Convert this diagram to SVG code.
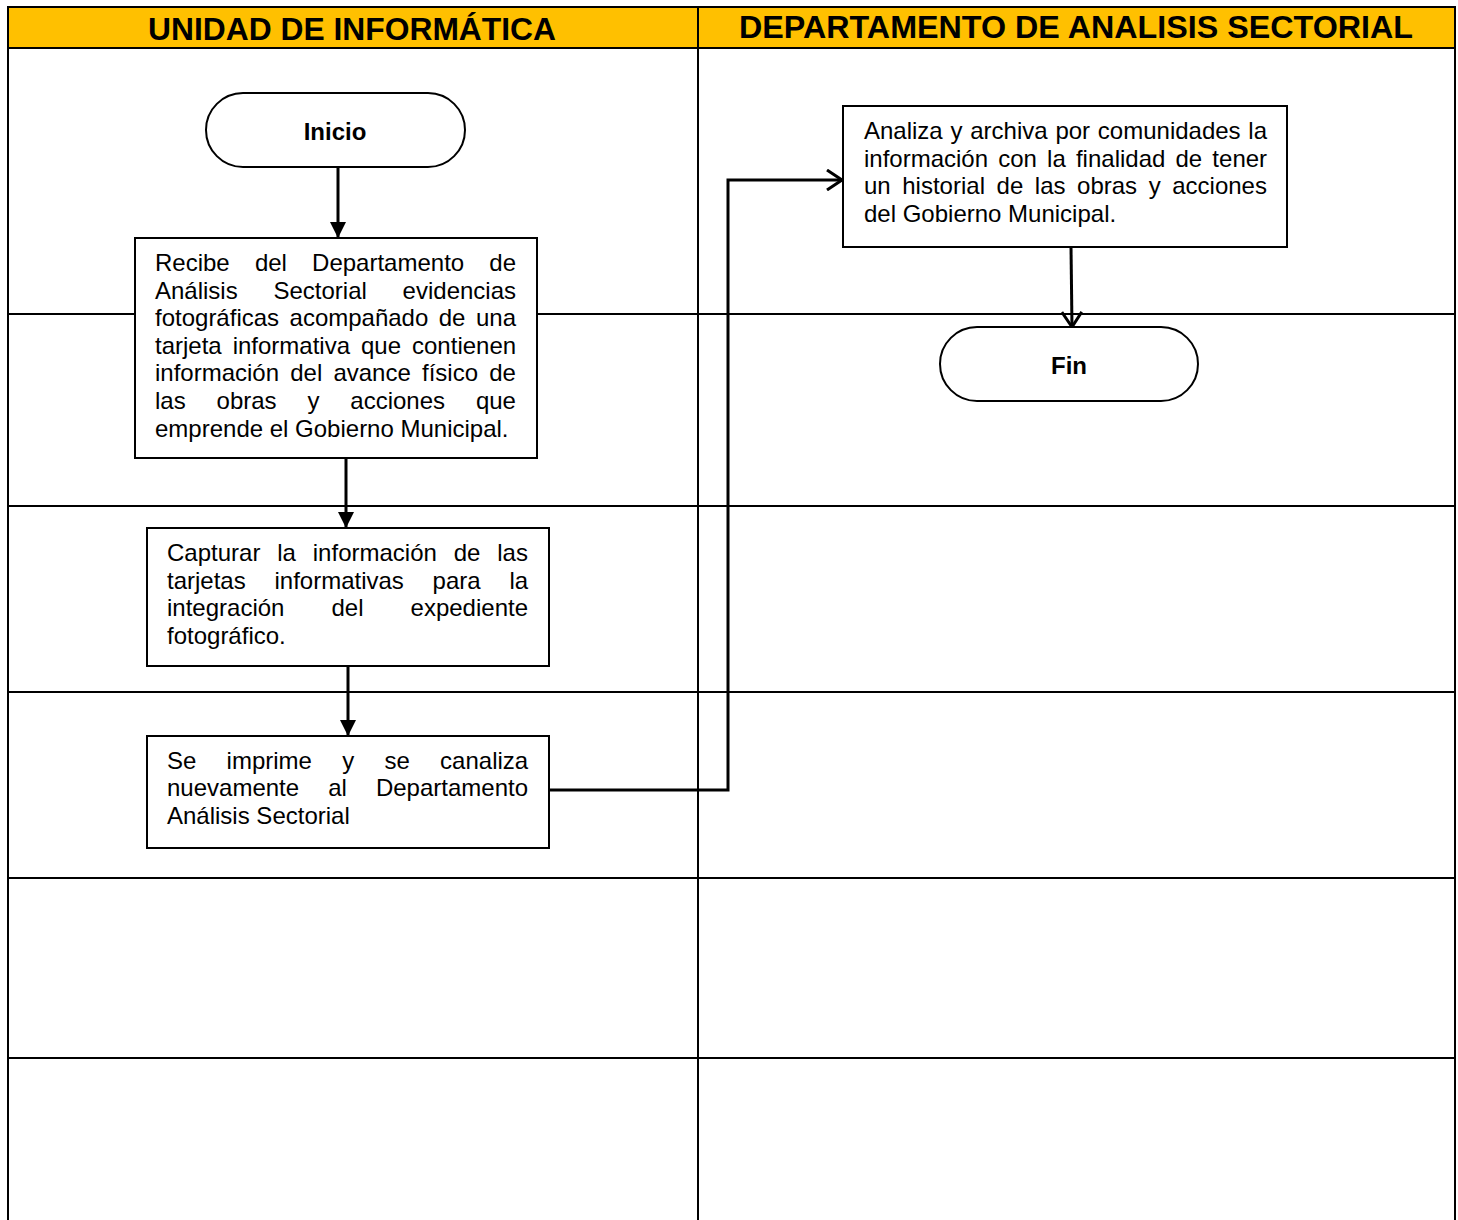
<svg xmlns="http://www.w3.org/2000/svg" width="1458" height="1220" viewBox="0 0 1458 1220">
<style>
.grid{stroke:#000;stroke-width:2;fill:none}
.hdr{font-family:"Liberation Sans",Arial,sans-serif;font-weight:bold;font-size:32px;fill:#000}
.box{fill:#fff;stroke:#000;stroke-width:2}
.t{font-family:"Liberation Sans",Arial,sans-serif;font-size:24px;fill:#000}
.tb{font-family:"Liberation Sans",Arial,sans-serif;font-size:24px;font-weight:bold;fill:#000}
.conn{stroke:#000;stroke-width:3;fill:none}
</style>
<defs>
<marker id="fill" markerWidth="16" markerHeight="16" refX="15" refY="8" orient="auto" markerUnits="userSpaceOnUse">
<path d="M0,0 L16,8 L0,16 Z" fill="#000"/>
</marker>
<marker id="open" markerWidth="18" markerHeight="22" refX="16" refY="11" orient="auto" markerUnits="userSpaceOnUse">
<path d="M1,1 L16,11 L1,21" fill="none" stroke="#000" stroke-width="3"/>
</marker>
</defs>
<rect x="0" y="0" width="1458" height="1220" fill="#fff"/>
<g id="header">
<rect x="8" y="7" width="1447" height="41" fill="#FFC000"/>
<text class="hdr" x="148" y="40" textLength="408" lengthAdjust="spacingAndGlyphs">UNIDAD DE INFORMÁTICA</text>
<text class="hdr" x="739" y="38" textLength="674" lengthAdjust="spacingAndGlyphs">DEPARTAMENTO DE ANALISIS SECTORIAL</text>
</g>
<g id="grid">
<line class="grid" x1="7" y1="7" x2="1456" y2="7"/>
<line class="grid" x1="7" y1="48" x2="1456" y2="48" stroke-width="3"/>
<line class="grid" x1="8" y1="7" x2="8" y2="1220"/>
<line class="grid" x1="698" y1="7" x2="698" y2="1220"/>
<line class="grid" x1="1455" y1="7" x2="1455" y2="1220"/>
<line class="grid" x1="8" y1="314" x2="1455" y2="314"/>
<line class="grid" x1="8" y1="506" x2="1455" y2="506"/>
<line class="grid" x1="8" y1="692" x2="1455" y2="692"/>
<line class="grid" x1="8" y1="878" x2="1455" y2="878"/>
<line class="grid" x1="8" y1="1058" x2="1455" y2="1058" stroke-width="3"/>
</g>
<g id="connectors">
<line class="conn" x1="338" y1="167" x2="338" y2="237" marker-end="url(#fill)"/>
<line class="conn" x1="346" y1="458" x2="346" y2="527" marker-end="url(#fill)"/>
<line class="conn" x1="348" y1="666" x2="348" y2="735" marker-end="url(#fill)"/>
<polyline class="conn" points="549,790 728,790 728,180 842,180" marker-end="url(#open)"/>
<line class="conn" x1="1071" y1="247" x2="1072" y2="327" marker-end="url(#open)"/>
</g>
<g id="inicio">
<rect class="box" x="206" y="93" width="259" height="74" rx="37" ry="37"/>
<text class="tb" x="335" y="140" text-anchor="middle">Inicio</text>
</g>
<g id="recibe">
<rect class="box" x="135" y="238" width="402" height="220"/>
<text class="t" x="155" y="271" word-spacing="18.5">Recibe del Departamento de</text>
<text class="t" x="155" y="298.6" word-spacing="29.1">Análisis Sectorial evidencias</text>
<text class="t" x="155" y="326.2" word-spacing="3.8">fotográficas acompañado de una</text>
<text class="t" x="155" y="353.8" word-spacing="4.3">tarjeta informativa que contienen</text>
<text class="t" x="155" y="381.4" word-spacing="4.5">información del avance físico de</text>
<text class="t" x="155" y="409" word-spacing="24.2">las obras y acciones que</text>
<text class="t" x="155" y="436.6">emprende el Gobierno Municipal.</text>
</g>
<g id="capturar">
<rect class="box" x="147" y="528" width="402" height="138"/>
<text class="t" x="167" y="561" word-spacing="10.2">Capturar la información de las</text>
<text class="t" x="167" y="588.6" word-spacing="22.1">tarjetas informativas para la</text>
<text class="t" x="167" y="616.2" word-spacing="40.4">integración del expediente</text>
<text class="t" x="167" y="643.8">fotográfico.</text>
</g>
<g id="imprime">
<rect class="box" x="147" y="736" width="402" height="112"/>
<text class="t" x="167" y="768.5" word-spacing="23.6">Se imprime y se canaliza</text>
<text class="t" x="167" y="796.1" word-spacing="22.4">nuevamente al Departamento</text>
<text class="t" x="167" y="823.7">Análisis Sectorial</text>
</g>
<g id="analiza">
<rect class="box" x="843" y="106" width="444" height="141"/>
<text class="t" x="864" y="139" word-spacing="1.1">Analiza y archiva por comunidades la</text>
<text class="t" x="864" y="166.6" word-spacing="3.5">información con la finalidad de tener</text>
<text class="t" x="864" y="194.2" word-spacing="4.9">un historial de las obras y acciones</text>
<text class="t" x="864" y="221.8">del Gobierno Municipal.</text>
</g>
<g id="fin">
<rect class="box" x="940" y="327" width="258" height="74" rx="37" ry="37"/>
<text class="tb" x="1069" y="374" text-anchor="middle">Fin</text>
</g>
</svg>
